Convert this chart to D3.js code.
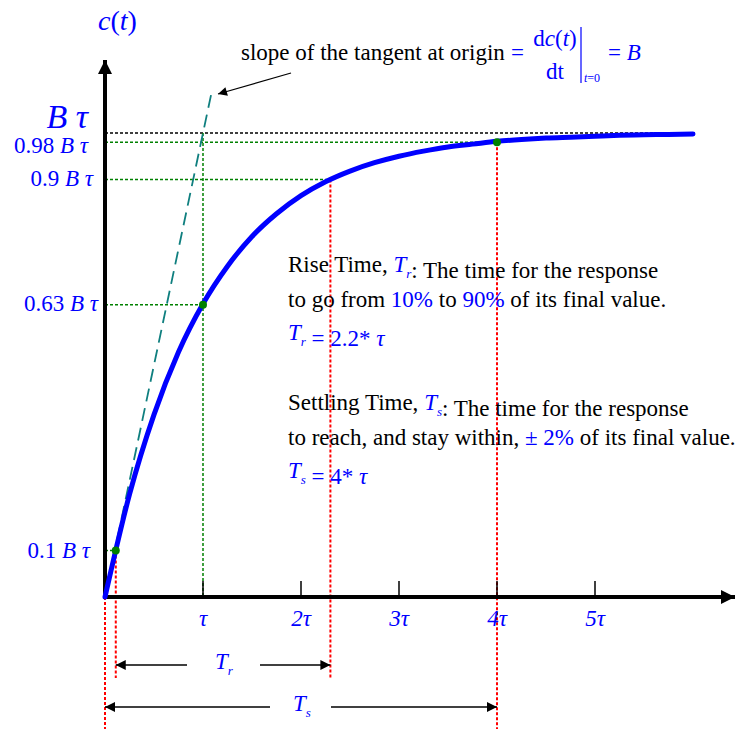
<!DOCTYPE html>
<html>
<head>
<meta charset="utf-8">
<script src="https://cdn.jsdelivr.net/npm/d3@7"></script>
<style>
  html, body { margin: 0; padding: 0; background: #ffffff; }
  svg { display: block; }
</style>
</head>
<body>
<svg id="chart" width="754" height="729" font-family="'Liberation Serif', 'Times New Roman', Tinos, 'DejaVu Serif', serif"></svg>
<script>
// First-order step response c(t), time in units of tau, output in units of B*tau
const timeSamples = [0, 0.25, 0.5, 0.75, 1, 1.25, 1.5, 1.75, 2, 2.25, 2.5, 2.75, 3,
                     3.25, 3.5, 3.75, 4, 4.25, 4.5, 4.75, 5, 5.25, 5.5, 5.75, 6];
const responseSamples = [0, 0.221, 0.393, 0.528, 0.632, 0.713, 0.777, 0.826, 0.865, 0.895,
                         0.918, 0.936, 0.950, 0.961, 0.970, 0.976, 0.982, 0.986, 0.989,
                         0.991, 0.993, 0.995, 0.996, 0.997, 0.998];

// x axis ticks
const tickValues = [1, 2, 3, 4, 5];
const tickLabels = ["τ", "2τ", "3τ", "4τ", "5τ"];

// marked levels on the y axis
const levelValues = [0.1, 0.63, 0.9, 0.98];
const levelTimes  = [0.11, 1, 2.3, 4];
const levelLabels = ["0.1", "0.63", "0.9", "0.98"];
const finalValue = 1;

// characteristic times
const riseStart = 0.11, riseEnd = 2.3, settleTime = 4;
const tangentEnd = 1.085;   // slope-B tangent from origin drawn up to this time

const BLUE = "#0000ff", GREEN = "#008000", RED = "#ff0000", TEAL = "#0f7f7f";
const FS = 23;

const svg = d3.select("#chart");
const x = d3.scaleLinear().domain([0, 6]).range([105, 693]);
const y = d3.scaleLinear().domain([0, 1]).range([597, 133]);

const defs = svg.append("defs");
function marker(id, w, h) {
  defs.append("marker").attr("id", id).attr("viewBox", "0 0 10 10")
    .attr("refX", 10).attr("refY", 5).attr("markerWidth", w).attr("markerHeight", h)
    .attr("markerUnits", "userSpaceOnUse").attr("orient", "auto")
    .append("path").attr("d", "M0,0 L10,5 L0,10 Z").attr("fill", "#000");
}
marker("tri", 14, 10);
marker("triAxis", 18, 14);
marker("triSmall", 13, 9);

const dot = "3,2";

// final value line
svg.append("line").attr("x1", x(0)).attr("x2", x(6)).attr("y1", y(finalValue)).attr("y2", y(finalValue))
  .attr("stroke", "#000").attr("stroke-width", 1.5).attr("stroke-dasharray", dot);

// green guides: horizontal from y axis to each marked point
levelValues.forEach((v, i) => {
  svg.append("line").attr("x1", x(0)).attr("x2", x(levelTimes[i]))
    .attr("y1", y(v)).attr("y2", y(v))
    .attr("stroke", GREEN).attr("stroke-width", 1.5).attr("stroke-dasharray", dot);
});
// green vertical at t = tau
svg.append("line").attr("x1", x(1)).attr("x2", x(1)).attr("y1", y(finalValue)).attr("y2", y(0))
  .attr("stroke", GREEN).attr("stroke-width", 1.5).attr("stroke-dasharray", dot);

// red verticals marking rise and settling times
const redLines = [
  [0, y(0), 729],
  [riseStart, y(levelValues[0]), 678],
  [riseEnd, y(levelValues[2]), 678],
  [settleTime, y(levelValues[3]), 729]
];
redLines.forEach(([t, y1, y2]) => {
  svg.append("line").attr("x1", x(t)).attr("x2", x(t)).attr("y1", y1).attr("y2", y2)
    .attr("stroke", RED).attr("stroke-width", 2).attr("stroke-dasharray", dot);
});

// tangent at origin
svg.append("line").attr("x1", x(0)).attr("y1", y(0)).attr("x2", x(tangentEnd)).attr("y2", y(tangentEnd))
  .attr("stroke", TEAL).attr("stroke-width", 1.8).attr("stroke-dasharray", "13,7");

// axes
svg.append("line").attr("x1", x(0)).attr("y1", y(0)).attr("x2", 735).attr("y2", y(0))
  .attr("stroke", "#000").attr("stroke-width", 4).attr("marker-end", "url(#triAxis)");
svg.append("line").attr("x1", x(0)).attr("y1", y(0) + 2).attr("x2", x(0)).attr("y2", 60)
  .attr("stroke", "#000").attr("stroke-width", 4).attr("marker-end", "url(#triAxis)");

// ticks
svg.selectAll(".tick").data(tickValues).enter().append("line")
  .attr("x1", d => x(d)).attr("x2", d => x(d)).attr("y1", y(0)).attr("y2", y(0) - 16)
  .attr("stroke", "#000").attr("stroke-width", 1.5);
svg.selectAll(".ticklab").data(tickValues).enter().append("text")
  .attr("x", d => x(d)).attr("y", 626).attr("text-anchor", "middle")
  .attr("font-size", FS).attr("font-style", "italic").attr("fill", BLUE)
  .text((d, i) => tickLabels[i]);

// response curve
const pts = timeSamples.map((t, i) => [t, responseSamples[i]]);
svg.append("path").datum(pts)
  .attr("d", d3.line().x(d => x(d[0])).y(d => y(d[1])).curve(d3.curveMonotoneX))
  .attr("fill", "none").attr("stroke", BLUE).attr("stroke-width", 5).attr("stroke-linecap", "round");

// marked points
[0, 1, 3].forEach(i => {
  svg.append("circle").attr("cx", x(levelTimes[i])).attr("cy", y(levelValues[i])).attr("r", 4)
    .attr("fill", GREEN);
});

// y axis labels
const labelShift = { "0.1": [90, 7], "0.63": [98, 6], "0.9": [93, 7], "0.98": [88, 11] };
levelValues.forEach((v, i) => {
  const [lx, dy] = labelShift[levelLabels[i]];
  const t = svg.append("text").attr("x", lx).attr("y", y(v) + dy).attr("text-anchor", "end")
    .attr("font-size", FS).attr("fill", BLUE);
  t.append("tspan").text(levelLabels[i] + " ");
  t.append("tspan").attr("font-style", "italic").text("B τ");
});
svg.append("text").attr("x", 88).attr("y", y(finalValue) - 5).attr("text-anchor", "end")
  .attr("font-size", 34).attr("font-style", "italic").attr("fill", BLUE).text("B τ");

// y axis title
const yt = svg.append("text").attr("x", 98).attr("y", 30).attr("font-size", 28).attr("fill", BLUE);
yt.append("tspan").attr("font-style", "italic").text("c");
yt.append("tspan").text("(");
yt.append("tspan").attr("font-style", "italic").text("t");
yt.append("tspan").text(")");

// slope annotation
svg.append("text").attr("x", 241).attr("y", 60).attr("font-size", FS).attr("fill", "#000")
  .text("slope of the tangent at origin");
svg.append("text").attr("x", 511).attr("y", 60).attr("font-size", FS).attr("fill", BLUE).text("=");
const num = svg.append("text").attr("x", 555).attr("y", 46).attr("text-anchor", "middle")
  .attr("font-size", FS).attr("fill", BLUE);
num.append("tspan").text("d");
num.append("tspan").attr("font-style", "italic").text("c");
num.append("tspan").text("(");
num.append("tspan").attr("font-style", "italic").text("t");
num.append("tspan").text(")");
svg.append("text").attr("x", 555).attr("y", 79).attr("text-anchor", "middle")
  .attr("font-size", FS).attr("fill", BLUE).text("dt");
svg.append("line").attr("x1", 581).attr("x2", 581).attr("y1", 27).attr("y2", 83)
  .attr("stroke", BLUE).attr("stroke-width", 1.2);
const sub = svg.append("text").attr("x", 584).attr("y", 82).attr("font-size", 12).attr("fill", BLUE);
sub.append("tspan").attr("font-style", "italic").text("t");
sub.append("tspan").text("=0");
const eqB = svg.append("text").attr("x", 608).attr("y", 60).attr("font-size", FS).attr("fill", BLUE);
eqB.append("tspan").text("= ");
eqB.append("tspan").attr("font-style", "italic").text("B");
svg.append("line").attr("x1", 291).attr("y1", 73).attr("x2", 218).attr("y2", 94)
  .attr("stroke", "#000").attr("stroke-width", 1.2).attr("marker-end", "url(#triSmall)");

// explanatory text
function sym(sel, main, subscript) {
  sel.append("tspan").attr("fill", BLUE).attr("font-style", "italic").text(main);
  sel.append("tspan").attr("fill", BLUE).attr("font-style", "italic").attr("font-size", 13)
    .attr("dy", 6).text(subscript);
  sel.append("tspan").attr("dy", -6).text("");
}
let t1 = svg.append("text").attr("x", 288).attr("y", 272).attr("font-size", FS).attr("fill", "#000");
t1.append("tspan").text("Rise Time, ");
sym(t1, "T", "r");
t1.append("tspan").text(": The time for the response");

let t2 = svg.append("text").attr("x", 288).attr("y", 307).attr("font-size", FS).attr("fill", "#000");
t2.append("tspan").text("to go from ");
t2.append("tspan").attr("fill", BLUE).text("10%");
t2.append("tspan").text(" to ");
t2.append("tspan").attr("fill", BLUE).text("90%");
t2.append("tspan").text(" of its final value.");

let t3 = svg.append("text").attr("x", 288).attr("y", 340).attr("font-size", FS).attr("fill", BLUE);
sym(t3, "T", "r");
t3.append("tspan").text(" = 2.2* ");
t3.append("tspan").attr("font-style", "italic").text("τ");

let t4 = svg.append("text").attr("x", 288).attr("y", 410).attr("font-size", FS).attr("fill", "#000");
t4.append("tspan").text("Settling Time, ");
sym(t4, "T", "s");
t4.append("tspan").text(": The time for the response");

let t5 = svg.append("text").attr("x", 288).attr("y", 445).attr("font-size", FS).attr("fill", "#000");
t5.append("tspan").text("to reach, and stay within,  ");
t5.append("tspan").attr("fill", BLUE).text("± 2%");
t5.append("tspan").text(" of its final value.");

let t6 = svg.append("text").attr("x", 288).attr("y", 478).attr("font-size", FS).attr("fill", BLUE);
sym(t6, "T", "s");
t6.append("tspan").text(" = 4* ");
t6.append("tspan").attr("font-style", "italic").text("τ");

// rise time and settling time spans
function span(yPos, t0, tA, tB, t1, label, lx) {
  svg.append("line").attr("x1", tA).attr("x2", x(t0)).attr("y1", yPos).attr("y2", yPos)
    .attr("stroke", "#000").attr("stroke-width", 1.5).attr("marker-end", "url(#tri)");
  svg.append("line").attr("x1", tB).attr("x2", x(t1)).attr("y1", yPos).attr("y2", yPos)
    .attr("stroke", "#000").attr("stroke-width", 1.5).attr("marker-end", "url(#tri)");
  const tl = svg.append("text").attr("x", lx).attr("y", yPos + 4).attr("font-size", FS).attr("fill", BLUE);
  sym(tl, "T", label);
}
span(665, riseStart, 187, 260, riseEnd, "r", 215);
span(707, 0, 270, 331, settleTime, "s", 293);
</script>
</body>
</html>
